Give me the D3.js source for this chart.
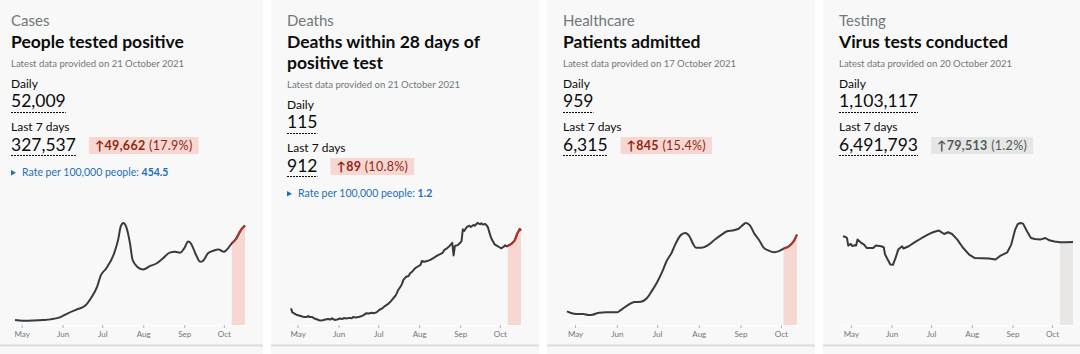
<!DOCTYPE html>
<html>
<head>
<meta charset="utf-8">
<script src="https://cdn.jsdelivr.net/npm/d3@7"></script>
<style>
  body { margin: 0; background: #fff; }
  svg { display: block; font-family: Lato, 'Noto Sans', sans-serif; }
</style>
</head>
<body>
<div id="chart"></div>
<script>
const cardNames = ['Cases', 'Deaths', 'Healthcare', 'Testing']
const cardTitles = [
  ['People tested positive'],
  ['Deaths within 28 days of', 'positive test'],
  ['Patients admitted'],
  ['Virus tests conducted']
]
const latestDates = ['21 October 2021', '21 October 2021', '17 October 2021', '20 October 2021']
const dailyValues = ['52,009', '115', '959', '1,103,117']
const weekValues = ['327,537', '912', '6,315', '6,491,793']
const changeValues = ['49,662', '89', '845', '79,513']
const changePercents = ['(17.9%)', '(10.8%)', '(15.4%)', '(1.2%)']
const changeUp = [true, true, true, false] // false = neutral grey badge
const rateValues = ['454.5', '1.2', null, null]
const monthTicks = ['2021-05-01', '2021-06-01', '2021-07-01', '2021-08-01', '2021-09-01', '2021-10-01']
const highlightStart = ['2021-10-07', '2021-10-07', '2021-10-03', '2021-10-07']

// 7 day averages
const casesSeries = [
  ['2021-04-26', 2300], ['2021-05-02', 2000], ['2021-05-10', 2100], ['2021-05-17', 2300],
  ['2021-05-23', 2600], ['2021-05-30', 3550], ['2021-06-05', 5400], ['2021-06-11', 7000],
  ['2021-06-18', 8850], ['2021-06-23', 12900], ['2021-06-27', 17500], ['2021-06-30', 23000],
  ['2021-07-04', 26100], ['2021-07-10', 33100], ['2021-07-13', 39300], ['2021-07-15', 45500],
  ['2021-07-17', 47100], ['2021-07-19', 45500], ['2021-07-22', 37700], ['2021-07-24', 30000],
  ['2021-07-28', 26600], ['2021-08-01', 25600], ['2021-08-06', 27200], ['2021-08-11', 28400],
  ['2021-08-16', 30800], ['2021-08-21', 33400], ['2021-08-25', 33800], ['2021-08-29', 33400],
  ['2021-09-01', 35400], ['2021-09-04', 38500], ['2021-09-06', 37700], ['2021-09-10', 32300],
  ['2021-09-13', 29200], ['2021-09-15', 29500], ['2021-09-19', 33100], ['2021-09-23', 34300],
  ['2021-09-27', 34900], ['2021-10-01', 33800], ['2021-10-03', 34600], ['2021-10-07', 37700],
  ['2021-10-10', 39600], ['2021-10-14', 43900], ['2021-10-17', 45900]
]
const deathsSeries = [
  ['2021-04-26', 21], ['2021-04-27', 16], ['2021-04-29', 14], ['2021-04-30', 13], ['2021-05-02', 12],
  ['2021-05-04', 11], ['2021-05-06', 10], ['2021-05-08', 10], ['2021-05-09', 11.5], ['2021-05-10', 10],
  ['2021-05-12', 10], ['2021-05-14', 8], ['2021-05-16', 7], ['2021-05-18', 5.6], ['2021-05-20', 6],
  ['2021-05-22', 7], ['2021-05-24', 7.7], ['2021-05-26', 7], ['2021-05-27', 8.5], ['2021-05-29', 6.4],
  ['2021-05-31', 7], ['2021-06-02', 8.2], ['2021-06-04', 7.5], ['2021-06-05', 8.8], ['2021-06-07', 8.2],
  ['2021-06-09', 9], ['2021-06-11', 8.5], ['2021-06-12', 10], ['2021-06-14', 9.5], ['2021-06-16', 10],
  ['2021-06-18', 11], ['2021-06-20', 12.5], ['2021-06-22', 15], ['2021-06-24', 14.5], ['2021-06-26', 15.4],
  ['2021-06-28', 15], ['2021-06-30', 16.3], ['2021-07-02', 19.3], ['2021-07-04', 21], ['2021-07-06', 24],
  ['2021-07-08', 26], ['2021-07-09', 27.5], ['2021-07-10', 29], ['2021-07-12', 33], ['2021-07-14', 37],
  ['2021-07-15', 40], ['2021-07-16', 44], ['2021-07-18', 49], ['2021-07-19', 52], ['2021-07-20', 57],
  ['2021-07-22', 61], ['2021-07-24', 62], ['2021-07-25', 65], ['2021-07-27', 68], ['2021-07-29', 72],
  ['2021-07-31', 74], ['2021-08-02', 76], ['2021-08-03', 81], ['2021-08-05', 80], ['2021-08-07', 81],
  ['2021-08-09', 82], ['2021-08-10', 83], ['2021-08-12', 85], ['2021-08-14', 87], ['2021-08-16', 89],
  ['2021-08-18', 90.5], ['2021-08-19', 92], ['2021-08-20', 95], ['2021-08-22', 97], ['2021-08-24', 100],
  ['2021-08-26', 104], ['2021-08-27', 88], ['2021-08-28', 100], ['2021-08-30', 101], ['2021-09-01', 104],
  ['2021-09-02', 106], ['2021-09-03', 121], ['2021-09-04', 119], ['2021-09-06', 124], ['2021-09-08', 125.5],
  ['2021-09-09', 124], ['2021-09-11', 126.5], ['2021-09-12', 125.5], ['2021-09-14', 129], ['2021-09-16', 127.5],
  ['2021-09-17', 128.7], ['2021-09-18', 127], ['2021-09-20', 127.8], ['2021-09-21', 126], ['2021-09-22', 123.5],
  ['2021-09-24', 112], ['2021-09-25', 108], ['2021-09-27', 102], ['2021-09-29', 100], ['2021-10-01', 98],
  ['2021-10-02', 97], ['2021-10-04', 99], ['2021-10-05', 100.8], ['2021-10-06', 99.5], ['2021-10-07', 100],
  ['2021-10-09', 102], ['2021-10-10', 103], ['2021-10-12', 106.4], ['2021-10-13', 110], ['2021-10-14', 115],
  ['2021-10-15', 118], ['2021-10-16', 121.4], ['2021-10-17', 119.3]
]
const admissionsSeries = [
  ['2021-04-25', 136], ['2021-04-28', 119], ['2021-05-02', 109], ['2021-05-07', 109], ['2021-05-11', 99],
  ['2021-05-14', 103], ['2021-05-19', 123], ['2021-05-24', 126], ['2021-06-01', 126], ['2021-06-04', 149],
  ['2021-06-09', 196], ['2021-06-14', 229], ['2021-06-19', 232], ['2021-06-23', 261], ['2021-06-27', 338],
  ['2021-07-01', 427], ['2021-07-05', 537], ['2021-07-08', 636], ['2021-07-12', 726], ['2021-07-15', 818],
  ['2021-07-19', 901], ['2021-07-22', 918], ['2021-07-25', 885], ['2021-07-28', 802], ['2021-07-30', 769],
  ['2021-08-03', 769], ['2021-08-08', 798], ['2021-08-13', 852], ['2021-08-18', 901], ['2021-08-22', 934],
  ['2021-08-27', 944], ['2021-08-31', 964], ['2021-09-03', 1001], ['2021-09-05', 1017], ['2021-09-08', 994],
  ['2021-09-11', 918], ['2021-09-15', 842], ['2021-09-18', 775], ['2021-09-22', 742], ['2021-09-26', 726],
  ['2021-09-30', 739], ['2021-10-03', 762], ['2021-10-07', 785], ['2021-10-11', 845], ['2021-10-13', 901]
]
const testsSeries = [
  ['2021-04-25', 994000], ['2021-04-27', 986000], ['2021-04-28', 975000], ['2021-04-29', 890000],
  ['2021-05-01', 908000], ['2021-05-02', 886000], ['2021-05-04', 893000], ['2021-05-05', 890000],
  ['2021-05-06', 957000], ['2021-05-09', 920000], ['2021-05-11', 901000], ['2021-05-13', 864000],
  ['2021-05-18', 864000], ['2021-05-20', 890000], ['2021-05-24', 882000], ['2021-05-26', 871000],
  ['2021-05-27', 789000], ['2021-05-29', 734000], ['2021-05-31', 678000], ['2021-06-02', 674000],
  ['2021-06-04', 752000], ['2021-06-06', 845000], ['2021-06-09', 882000], ['2021-06-10', 857000],
  ['2021-06-14', 882000], ['2021-06-19', 931000], ['2021-06-24', 975000], ['2021-06-30', 1024000],
  ['2021-07-03', 1042000], ['2021-07-07', 1058000], ['2021-07-11', 1020000], ['2021-07-14', 1039000],
  ['2021-07-17', 1020000], ['2021-07-21', 957000], ['2021-07-25', 871000], ['2021-07-30', 789000],
  ['2021-08-03', 752000], ['2021-08-09', 748000], ['2021-08-14', 745000], ['2021-08-19', 734000],
  ['2021-08-23', 778000], ['2021-08-28', 815000], ['2021-08-31', 901000], ['2021-09-03', 1069000],
  ['2021-09-05', 1132000], ['2021-09-07', 1143000], ['2021-09-09', 1136000], ['2021-09-12', 1050000],
  ['2021-09-15', 975000], ['2021-09-18', 964000], ['2021-09-22', 957000], ['2021-09-26', 975000],
  ['2021-09-29', 949000], ['2021-10-03', 935000], ['2021-10-07', 927000], ['2021-10-12', 927000],
  ['2021-10-17', 931000]
]
const allSeries = [casesSeries, deathsSeries, admissionsSeries, testsSeries]
const smoothLine = [true, false, true, false]

const width = 1080
const height = 354
const cardWidth = 268
const cardStep = 276
const pad = 16
const textDark = '#0b0c0c'
const textGrey = '#6f777b'
const lineColor = '#383b3d'
const redLine = '#b73224'
const parseDate = d3.timeParse('%Y-%m-%d')

const svg = d3.select('#chart').append('svg')
  .attr('width', width)
  .attr('height', height)

allSeries.forEach(function (series, i) {
  const g = svg.append('g')
    .attr('transform', 'translate(' + (-5 + i * cardStep) + ',0)')

  g.append('rect')
    .attr('width', cardWidth)
    .attr('height', height)
    .attr('fill', '#f8f8f8')

  // the deaths title wraps onto a second line and pushes everything down
  const shift = (cardTitles[i].length - 1) * 21

  g.append('text')
    .attr('x', pad).attr('y', 26)
    .attr('font-size', 15).attr('fill', textGrey)
    .text(cardNames[i])

  cardTitles[i].forEach(function (t, j) {
    g.append('text')
      .attr('x', pad).attr('y', 48 + j * 21)
      .attr('font-size', 17.5).attr('font-weight', 700).attr('fill', textDark)
      .text(t)
  })

  g.append('text')
    .attr('x', pad).attr('y', 67 + shift)
    .attr('font-size', 9.5).attr('fill', textGrey)
    .text('Latest data provided on ' + latestDates[i])

  g.append('text')
    .attr('x', pad).attr('y', 88 + shift)
    .attr('font-size', 12).attr('fill', textDark)
    .text('Daily')

  const daily = g.append('text')
    .attr('x', pad).attr('y', 107 + shift)
    .attr('font-size', 17.5).attr('fill', textDark)
    .text(dailyValues[i])
  const dailyW = daily.node().getComputedTextLength()
  g.append('line')
    .attr('x1', pad).attr('x2', pad + dailyW)
    .attr('y1', 112.5 + shift).attr('y2', 112.5 + shift)
    .attr('stroke', textDark).attr('stroke-dasharray', '2,1')

  g.append('text')
    .attr('x', pad).attr('y', 131 + shift)
    .attr('font-size', 12).attr('fill', textDark)
    .text('Last 7 days')

  const week = g.append('text')
    .attr('x', pad).attr('y', 151 + shift)
    .attr('font-size', 17.5).attr('fill', textDark)
    .text(weekValues[i])
  const weekW = week.node().getComputedTextLength()
  g.append('line')
    .attr('x1', pad).attr('x2', pad + weekW)
    .attr('y1', 155.5 + shift).attr('y2', 155.5 + shift)
    .attr('stroke', textDark).attr('stroke-dasharray', '2,1')

  // change badge
  const badgeX = pad + weekW + 13
  const badge = g.append('g')
  const badgeRect = badge.append('rect')
    .attr('x', badgeX).attr('y', 137 + shift)
    .attr('height', 17)
    .attr('fill', changeUp[i] ? '#f6d7d2' : '#e6e6e6')
  const badgeText = badge.append('text')
    .attr('x', badgeX + 6).attr('y', 150 + shift)
    .attr('font-size', 12.5)
    .attr('letter-spacing', 0.3)
    .attr('fill', changeUp[i] ? '#942514' : '#505a5f')
  badgeText.append('tspan').attr('font-weight', 700).text('↑' + changeValues[i])
  badgeText.append('tspan').attr('font-weight', 400).text(' ' + changePercents[i])
  badgeRect.attr('width', badgeText.node().getComputedTextLength() + 12)

  if (rateValues[i]) {
    const ry = 176 + shift
    g.append('path')
      .attr('d', 'M' + pad + ',' + (ry - 6) + 'L' + (pad + 5) + ',' + (ry - 3.2) + 'L' + pad + ',' + (ry - 0.5) + 'Z')
      .attr('fill', '#1d70b8')
    const rate = g.append('text')
      .attr('x', pad + 11).attr('y', ry)
      .attr('font-size', 10.5).attr('fill', '#1d70b8')
    rate.append('tspan').text('Rate per 100,000 people: ')
    rate.append('tspan').attr('font-weight', 700).text(rateValues[i])
  }

  // sparkline
  const pts = series.map(d => [parseDate(d[0]), d[1]])
  const x = d3.scaleTime()
    .domain(d3.extent(pts, d => d[0]))
    .range([20, 250])
  const y = d3.scaleLinear()
    .domain([0, d3.max(pts, d => d[1])])
    .range([325, 223])
  const curve = smoothLine[i] ? d3.curveMonotoneX : d3.curveLinear

  const hl = parseDate(highlightStart[i])
  const recent = pts.filter(d => d[0] >= hl)

  g.append('path')
    .datum(recent)
    .attr('fill', changeUp[i] ? '#f6d7d2' : '#e8e7e6')
    .attr('d', d3.area().curve(curve).x(d => x(d[0])).y0(y(0)).y1(d => y(d[1])))

  g.append('path')
    .datum(pts)
    .attr('fill', 'none')
    .attr('stroke', lineColor)
    .attr('stroke-width', 2)
    .attr('stroke-linejoin', 'round')
    .attr('d', d3.line().curve(curve).x(d => x(d[0])).y(d => y(d[1])))

  if (changeUp[i]) {
    g.append('path')
      .datum(recent)
      .attr('fill', 'none')
      .attr('stroke', redLine)
      .attr('stroke-width', 2)
      .attr('stroke-linejoin', 'round')
      .attr('d', d3.line().curve(curve).x(d => x(d[0])).y(d => y(d[1])))
  }

  const axis = g.append('g')
    .attr('transform', 'translate(0,325)')
    .call(d3.axisBottom(x)
      .tickValues(monthTicks.map(parseDate))
      .tickFormat(d3.timeFormat('%b'))
      .tickSize(3)
      .tickPadding(3))
  axis.select('.domain').attr('stroke', '#fff')
  axis.selectAll('.tick line').attr('stroke', '#b1b4b6')
  axis.selectAll('.tick text')
    .attr('fill', textGrey)
    .attr('font-size', 8)
    .attr('font-family', 'Lato, sans-serif')

  g.append('rect')
    .attr('x', 0).attr('y', 344.5)
    .attr('width', cardWidth).attr('height', 2)
    .attr('fill', '#dcdcdc')
})
</script>
</body>
</html>
